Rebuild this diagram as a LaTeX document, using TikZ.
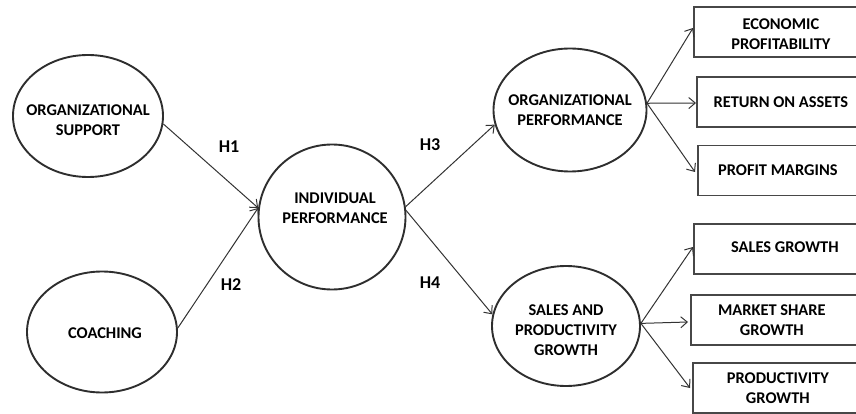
\documentclass[tikz,border=0pt]{standalone}
\usepackage{fontspec}
\setmainfont{Carlito}
\usetikzlibrary{shapes.geometric,arrows.meta}
\begin{document}
\begin{tikzpicture}[x=1pt,y=-1pt,
  every node/.style={font=\bfseries\fontsize{16.4}{20}\selectfont, text=black},
  oval/.style={ellipse, draw=black!82, line width=1.9pt, inner sep=0pt, fill=white},
  box/.style={rectangle, draw=black!72, line width=1.7pt, inner sep=0pt, minimum height=50pt, anchor=west},
  txt/.style={align=center},
  conn/.style={draw=black!80, line width=1pt, -{Straight Barb[length=6.5pt,width=11pt]}},
  hlab/.style={font=\bfseries\fontsize{18}{20}\selectfont}
]
\useasboundingbox (0,0) rectangle (856,414);

% ellipses
\node[oval, minimum width=150pt, minimum height=122pt,
  label={[txt,yshift=-4.5pt]center:ORGANIZATIONAL\\SUPPORT}] (os) at (88,116) {};
\node[oval, minimum width=150pt, minimum height=121pt,
  label={[txt,xshift=3pt,yshift=-1pt]center:COACHING}] (co) at (102,332) {};
\node[oval, minimum width=147pt, minimum height=145pt,
  label={[txt,xshift=3pt,yshift=9pt]center:INDIVIDUAL\\PERFORMANCE}] (ip) at (332,217) {};
\node[oval, minimum width=153pt, minimum height=123pt,
  label={[txt]center:ORGANIZATIONAL\\PERFORMANCE}] (op) at (570,110) {};
\node[oval, minimum width=148pt, minimum height=120pt,
  label={[txt,yshift=-4pt]center:SALES AND\\PRODUCTIVITY\\GROWTH}] (sp) at (566,326) {};

% boxes
\node[box, minimum width=177pt, label={[txt,xshift=-1.5pt,yshift=-2pt]center:ECONOMIC\\PROFITABILITY}] (ep) at (693,32) {};
\node[box, minimum width=174pt, label={[txt,xshift=-3pt]center:RETURN ON ASSETS}] (ra) at (696,102) {};
\node[box, minimum width=173pt, label={[txt,xshift=-6.5pt]center:PROFIT MARGINS}] (pm) at (697,170.5) {};
\node[box, minimum width=177pt, label={[txt,xshift=2.5pt,yshift=2pt]center:SALES GROWTH}] (sg) at (693,249) {};
\node[box, minimum width=180pt, label={[txt,xshift=-9pt]center:MARKET SHARE\\GROWTH}] (ms) at (690,320) {};
\node[box, minimum width=178pt, label={[txt,xshift=-4pt]center:PRODUCTIVITY\\GROWTH}] (pg) at (692,388) {};

% connectors
\draw[conn] (os.-6) -- (ip.173);
\draw[conn] (co.3) -- (ip.173);
\draw[conn] (ip.8) -- (op.-169);
\draw[conn] (ip.5) -- (sp.171);

\draw[conn] (op.5) -- ([yshift=4pt]ep.west);
\draw[conn] (op.5) -- ([yshift=-1pt]ra.west);
\draw[conn] (op.5) -- ([xshift=-2pt,yshift=-1.5pt]pm.west);
\draw[conn] (sp.2) -- ([yshift=2pt]sg.west);
\draw[conn] (sp.2) -- ([xshift=-2pt,yshift=-2pt]ms.west);
\draw[conn] (sp.2) -- ([xshift=-2pt]pg.west);

% hypothesis labels
\node[hlab] (h1) at (229,147) {H1};
\node[hlab] (h2) at (231,285) {H2};
\node[hlab] (h3) at (430,145) {H3};
\node[hlab] (h4) at (430,283) {H4};
\end{tikzpicture}
\end{document}
